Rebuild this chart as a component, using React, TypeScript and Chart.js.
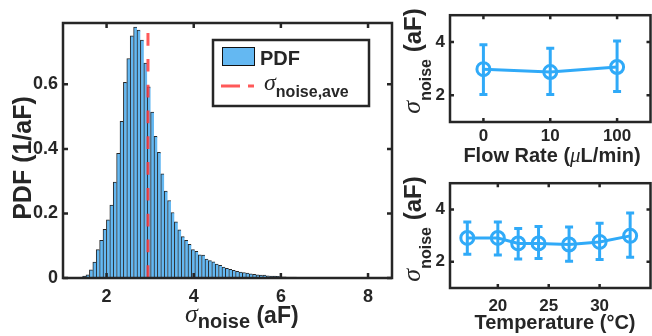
import React, { useEffect, useRef } from 'react';
import { Chart, registerables } from 'chart.js';
Chart.register(...registerables);

const TEXT = '#262626';
const SANS = '"Liberation Sans", Arial, Helvetica, sans-serif';
const SERIF = '"Liberation Serif", "Times New Roman", serif';
const BAR_FILL = 'rgb(100,184,242)';
const BLUE = 'rgb(48,170,248)';
const RED = 'rgba(255,60,60,0.85)';

// ---------- histogram (left panel) ----------
const binStart = 1.294; // left edge of first bin
const binWidth = 0.078;
const pdfValues = [
  0.001, 0.002, 0.006, 0.010, 0.025, 0.049, 0.088, 0.117, 0.151, 0.180,
  0.226, 0.297, 0.386, 0.485, 0.606, 0.680, 0.750, 0.777, 0.768, 0.737,
  0.666, 0.592, 0.514, 0.439, 0.389, 0.323, 0.269, 0.240, 0.203, 0.174,
  0.149, 0.128, 0.117, 0.104, 0.088, 0.083, 0.072, 0.071, 0.059, 0.054,
  0.050, 0.043, 0.039, 0.034, 0.030, 0.027, 0.024, 0.021, 0.018, 0.017,
  0.015, 0.013, 0.011, 0.010, 0.009, 0.009, 0.007, 0.006, 0.006, 0.005,
  0.004, 0.004, 0.003, 0.003, 0.003, 0.002, 0.002, 0.002, 0.002, 0.001,
  0.001, 0.001, 0.001, 0.001,
];
const noiseAve = 2.95;
const mainXMin = 1;
const mainXMax = 8.55;
const mainYMax = 0.79;
const mainXTicks = [2, 4, 6, 8];
const mainYTicks = [0, 0.2, 0.4, 0.6];

// ---------- flow rate (top right) ----------
const flowLabels = ['0', '10', '100'];
const flowMean = [2.98, 2.87, 3.06];
const flowLow = [2.03, 2.03, 2.14];
const flowHigh = [3.89, 3.76, 4.03];

// ---------- temperature (bottom right) ----------
const temps = [17, 20, 22, 24, 27, 30, 33];
const tempMean = [2.91, 2.91, 2.70, 2.70, 2.66, 2.76, 2.99];
const tempLow = [2.29, 2.26, 2.11, 2.13, 2.02, 2.09, 2.17];
const tempHigh = [3.52, 3.52, 3.27, 3.35, 3.33, 3.47, 3.86];
const tempXTicks = [20, 25, 30];
const sideYTicks = [2, 4];

type Seg = { text: string; font: string; dy: number };

function segsWidth(ctx: CanvasRenderingContext2D, segs: Seg[]) {
  let w = 0;
  for (const s of segs) {
    ctx.font = s.font;
    w += ctx.measureText(s.text).width;
  }
  return w;
}
function drawSegs(ctx: CanvasRenderingContext2D, segs: Seg[], x: number, y: number) {
  let cx = x;
  ctx.textAlign = 'left';
  ctx.textBaseline = 'alphabetic';
  for (const s of segs) {
    ctx.font = s.font;
    ctx.fillText(s.text, cx, y + s.dy);
    cx += ctx.measureText(s.text).width;
  }
}
function drawRotated(ctx: CanvasRenderingContext2D, segs: Seg[], xBase: number, yCenter: number) {
  const w = segsWidth(ctx, segs);
  ctx.save();
  ctx.translate(xBase, yCenter + w / 2);
  ctx.rotate(-Math.PI / 2);
  drawSegs(ctx, segs, 0, 0);
  ctx.restore();
}

function framePlugin(tickLen: number) {
  return {
    id: 'frameTicks',
    afterDatasetsDraw(chart: any) {
      const { ctx, chartArea: a } = chart;
      const xs = chart.scales.x;
      const ys = chart.scales.y;
      ctx.save();
      ctx.strokeStyle = TEXT;
      ctx.lineWidth = 2.5;
      ctx.beginPath();
      xs.ticks.forEach((_: any, i: number) => {
        const p = xs.getPixelForTick(i);
        ctx.moveTo(p, a.bottom);
        ctx.lineTo(p, a.bottom - tickLen);
        ctx.moveTo(p, a.top);
        ctx.lineTo(p, a.top + tickLen);
      });
      ys.ticks.forEach((_: any, i: number) => {
        const p = ys.getPixelForTick(i);
        ctx.moveTo(a.left, p);
        ctx.lineTo(a.left + tickLen, p);
        ctx.moveTo(a.right, p);
        ctx.lineTo(a.right - tickLen, p);
      });
      ctx.stroke();
      ctx.strokeRect(a.left, a.top, a.right - a.left, a.bottom - a.top);
      ctx.restore();
    },
  };
}

function errorBarPlugin(getX: (chart: any, i: number) => number, lows: number[], highs: number[]) {
  return {
    id: 'errorBars',
    beforeDatasetsDraw(chart: any) {
      const { ctx } = chart;
      const ys = chart.scales.y;
      ctx.save();
      ctx.strokeStyle = BLUE;
      ctx.lineWidth = 3;
      ctx.beginPath();
      lows.forEach((lo, i) => {
        const x = getX(chart, i);
        const y1 = ys.getPixelForValue(lo);
        const y2 = ys.getPixelForValue(highs[i]);
        ctx.moveTo(x, y1);
        ctx.lineTo(x, y2);
        ctx.moveTo(x - 4, y1);
        ctx.lineTo(x + 4, y1);
        ctx.moveTo(x - 4, y2);
        ctx.lineTo(x + 4, y2);
      });
      ctx.stroke();
      ctx.restore();
    },
  };
}

const tickFont = (size: number) => ({ family: '"Liberation Sans", Arial, sans-serif', size, weight: 'bold' as const });

export default function App() {
  const mainRef = useRef<HTMLCanvasElement>(null);
  const flowRef = useRef<HTMLCanvasElement>(null);
  const tempRef = useRef<HTMLCanvasElement>(null);

  useEffect(() => {
    const charts: Chart[] = [];

    // ---------- main histogram ----------
    const bins = pdfValues.map((v, i) => ({ x: binStart + binWidth * (i + 0.5), y: v }));
    const mainLabels = {
      id: 'mainLabels',
      afterDraw(chart: any) {
        const ctx: CanvasRenderingContext2D = chart.ctx;
        ctx.save();
        ctx.fillStyle = TEXT;
        // y title
        ctx.font = `bold 25px ${SANS}`;
        ctx.save();
        ctx.translate(31, 158);
        ctx.rotate(-Math.PI / 2);
        ctx.textAlign = 'center';
        ctx.textBaseline = 'alphabetic';
        ctx.fillText('PDF (1/aF)', 0, 0);
        ctx.restore();
        // x title
        drawSegs(ctx, [
          { text: 'σ', font: `italic 26px ${SERIF}`, dy: 0 },
          { text: 'noise', font: `bold 20px ${SANS}`, dy: 6 },
          { text: ' (aF)', font: `bold 23px ${SANS}`, dy: 1 },
        ], 185, 322);
        // legend
        ctx.fillStyle = '#fff';
        ctx.fillRect(213, 40, 156, 66);
        ctx.strokeStyle = TEXT;
        ctx.lineWidth = 2.5;
        ctx.strokeRect(213, 40, 156, 66);
        ctx.fillStyle = BAR_FILL;
        ctx.fillRect(222, 47, 33, 19);
        ctx.strokeStyle = '#111';
        ctx.lineWidth = 1;
        ctx.strokeRect(222.5, 47.5, 32, 18);
        ctx.fillStyle = TEXT;
        ctx.font = `bold 20px ${SANS}`;
        ctx.textAlign = 'left';
        ctx.fillText('PDF', 260, 65);
        ctx.strokeStyle = RED;
        ctx.lineWidth = 3;
        ctx.setLineDash([19, 8]);
        ctx.beginPath();
        ctx.moveTo(221, 86);
        ctx.lineTo(254, 86);
        ctx.stroke();
        ctx.setLineDash([]);
        ctx.fillStyle = TEXT;
        drawSegs(ctx, [
          { text: 'σ', font: `italic 24px ${SERIF}`, dy: 0 },
          { text: 'noise,ave', font: `bold 16px ${SANS}`, dy: 7 },
        ], 264, 90);
        ctx.restore();
      },
    };
    charts.push(new Chart(mainRef.current!, {
      type: 'bar',
      data: {
        datasets: [
          {
            type: 'bar',
            data: bins as any,
            backgroundColor: BAR_FILL,
            borderColor: 'rgba(0,0,0,0.85)',
            borderWidth: { left: 1, top: 1, right: 0, bottom: 0 } as any,
            barPercentage: 1,
            categoryPercentage: 1,
            order: 0,
          },
          {
            type: 'line',
            data: [{ x: noiseAve, y: 0 }, { x: noiseAve, y: mainYMax }] as any,
            borderColor: RED,
            borderWidth: 3,
            borderDash: [12.7, 13.1],
            pointRadius: 0,
            order: -1,
          },
        ],
      },
      options: {
        animation: false,
        responsive: false,
        devicePixelRatio: 1,
        events: [],
        layout: { padding: { top: 23, right: 8, left: 0, bottom: 0 } },
        plugins: { legend: { display: false }, tooltip: { enabled: false } },
        scales: {
          x: {
            type: 'linear',
            min: mainXMin,
            max: mainXMax,
            offset: false,
            grid: { display: false, drawTicks: false },
            border: { display: false },
            afterBuildTicks: (s: any) => { s.ticks = mainXTicks.map((v) => ({ value: v })); },
            afterFit: (s: any) => { s.height = 58; },
            ticks: { font: tickFont(18), color: TEXT, padding: 8, maxRotation: 0, callback: (v: any) => String(v) },
          },
          y: {
            type: 'linear',
            min: 0,
            max: mainYMax,
            grid: { display: false, drawTicks: false },
            border: { display: false },
            afterBuildTicks: (s: any) => { s.ticks = mainYTicks.map((v) => ({ value: v })); },
            afterFit: (s: any) => { s.width = 63; },
            ticks: { font: tickFont(18), color: TEXT, padding: 5, callback: (v: any) => String(v) },
          },
        },
      },
      plugins: [framePlugin(5), mainLabels],
    } as any));

    // ---------- flow rate panel ----------
    const flowLabelsPlugin = {
      id: 'flowLabels',
      afterDraw(chart: any) {
        const ctx: CanvasRenderingContext2D = chart.ctx;
        ctx.save();
        ctx.fillStyle = TEXT;
        const segs: Seg[] = [
          { text: 'Flow Rate (', font: `bold 20px ${SANS}`, dy: 0 },
          { text: 'μ', font: `italic 21px ${SERIF}`, dy: 0 },
          { text: 'L/min)', font: `bold 20px ${SANS}`, dy: 0 },
        ];
        const w = segsWidth(ctx, segs);
        drawSegs(ctx, segs, 152 - w / 2, 161.5);
        drawRotated(ctx, [
          { text: 'σ', font: `italic 26px ${SERIF}`, dy: 0 },
          { text: 'noise', font: `bold 16px ${SANS}`, dy: 11 },
          { text: ' (aF)', font: `bold 24px ${SANS}`, dy: 1 },
        ], 20, 61);
        ctx.restore();
      },
    };
    charts.push(new Chart(flowRef.current!, {
      type: 'line',
      data: {
        labels: flowLabels,
        datasets: [{
          data: flowMean,
          borderColor: BLUE,
          borderWidth: 3,
          pointRadius: 6.5,
          pointBorderWidth: 3,
          pointBorderColor: BLUE,
          pointBackgroundColor: 'rgba(0,0,0,0)',
          tension: 0,
        }],
      },
      options: {
        animation: false,
        responsive: false,
        devicePixelRatio: 1,
        events: [],
        layout: { padding: { top: 7, right: 3, left: 0, bottom: 0 } },
        plugins: { legend: { display: false }, tooltip: { enabled: false } },
        scales: {
          x: {
            type: 'category',
            offset: true,
            grid: { display: false, drawTicks: false },
            border: { display: false },
            afterFit: (s: any) => { s.height = 46; },
            ticks: { font: tickFont(17), color: TEXT, padding: 4.5, maxRotation: 0 },
          },
          y: {
            type: 'linear',
            min: 1,
            max: 5,
            grid: { display: false, drawTicks: false },
            border: { display: false },
            afterBuildTicks: (s: any) => { s.ticks = sideYTicks.map((v) => ({ value: v })); },
            afterFit: (s: any) => { s.width = 50; },
            ticks: { font: tickFont(17), color: TEXT, padding: 5, callback: (v: any) => String(v) },
          },
        },
      },
      plugins: [
        errorBarPlugin((c, i) => c.scales.x.getPixelForValue(i), flowLow, flowHigh),
        framePlugin(4),
        flowLabelsPlugin,
      ],
    } as any));

    // ---------- temperature panel ----------
    const tempLabelsPlugin = {
      id: 'tempLabels',
      afterDraw(chart: any) {
        const ctx: CanvasRenderingContext2D = chart.ctx;
        ctx.save();
        ctx.fillStyle = TEXT;
        ctx.font = `bold 20px ${SANS}`;
        ctx.textAlign = 'center';
        ctx.textBaseline = 'alphabetic';
        ctx.fillText('Temperature (°C)', 155, 161);
        drawRotated(ctx, [
          { text: 'σ', font: `italic 26px ${SERIF}`, dy: 0 },
          { text: 'noise', font: `bold 16px ${SANS}`, dy: 11 },
          { text: ' (aF)', font: `bold 24px ${SANS}`, dy: 1 },
        ], 20, 61);
        ctx.restore();
      },
    };
    charts.push(new Chart(tempRef.current!, {
      type: 'line',
      data: {
        datasets: [{
          data: temps.map((t, i) => ({ x: t, y: tempMean[i] })),
          borderColor: BLUE,
          borderWidth: 3,
          pointRadius: 6.5,
          pointBorderWidth: 3,
          pointBorderColor: BLUE,
          pointBackgroundColor: 'rgba(0,0,0,0)',
          tension: 0,
        }],
      },
      options: {
        animation: false,
        responsive: false,
        devicePixelRatio: 1,
        events: [],
        layout: { padding: { top: 7, right: 3, left: 0, bottom: 0 } },
        plugins: { legend: { display: false }, tooltip: { enabled: false } },
        scales: {
          x: {
            type: 'linear',
            min: 15.3,
            max: 35,
            grid: { display: false, drawTicks: false },
            border: { display: false },
            afterBuildTicks: (s: any) => { s.ticks = tempXTicks.map((v) => ({ value: v })); },
            afterFit: (s: any) => { s.height = 48; },
            ticks: { font: tickFont(17), color: TEXT, padding: 8, maxRotation: 0, callback: (v: any) => String(v) },
          },
          y: {
            type: 'linear',
            min: 1,
            max: 5,
            grid: { display: false, drawTicks: false },
            border: { display: false },
            afterBuildTicks: (s: any) => { s.ticks = sideYTicks.map((v) => ({ value: v })); },
            afterFit: (s: any) => { s.width = 50; },
            ticks: { font: tickFont(17), color: TEXT, padding: 5, callback: (v: any) => String(v) },
          },
        },
      },
      plugins: [
        errorBarPlugin((c, i) => c.scales.x.getPixelForValue(temps[i]), tempLow, tempHigh),
        framePlugin(4),
        tempLabelsPlugin,
      ],
    } as any));

    return () => { charts.forEach((c) => c.destroy()); };
  }, []);

  return (
    <div style={{ position: 'fixed', left: 0, top: 0, width: 652, height: 336, overflow: 'hidden', background: '#fff' }}>
      <canvas ref={mainRef} width={400} height={336} style={{ position: 'absolute', left: 0, top: 0, width: 400, height: 336 }} />
      <canvas ref={flowRef} width={260} height={168} style={{ position: 'absolute', left: 400, top: 0, width: 260, height: 168 }} />
      <canvas ref={tempRef} width={260} height={168} style={{ position: 'absolute', left: 400, top: 168, width: 260, height: 168 }} />
    </div>
  );
}
